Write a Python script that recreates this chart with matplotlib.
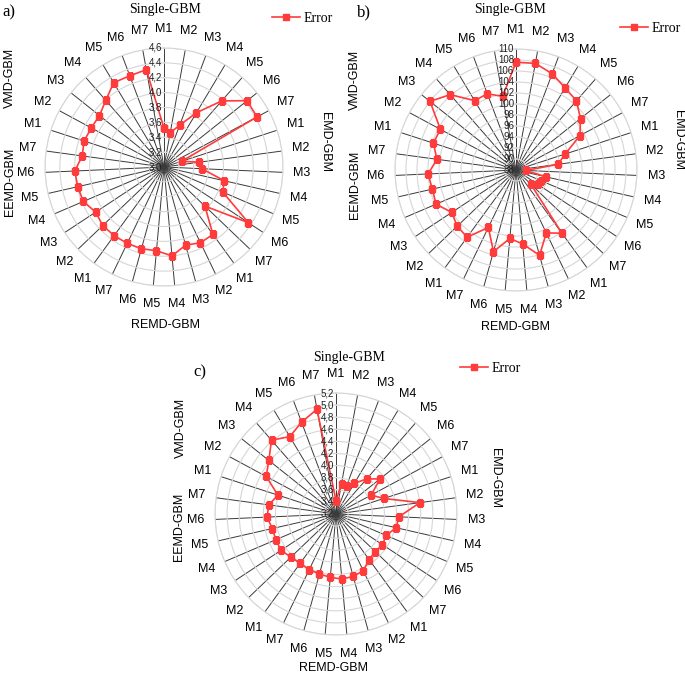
import numpy as np
import matplotlib
matplotlib.use('Agg')
import matplotlib.pyplot as plt
from matplotlib.transforms import offset_copy

W, H = 685, 675

models = ['M1', 'M2', 'M3', 'M4', 'M5', 'M6', 'M7']
groups = ['Single-GBM', 'EMD-GBM', 'REMD-GBM', 'EEMD-GBM', 'VMD-GBM']

# panel a)
a_single = [3.52, 3.47, 3.60, 3.85, 4.18, 4.43, 4.42]
a_emd = [3.25, 3.48, 3.51, 3.83, 3.86, 4.36, 3.76]
a_remd = [4.12, 4.13, 4.09, 4.20, 4.13, 4.14, 4.14]
a_eemd = [4.14, 4.14, 4.10, 4.18, 4.19, 4.20, 4.11]
a_vmd = [4.13, 4.11, 4.11, 4.19, 4.32, 4.31, 4.33]
a_ticks = [3.0, 3.2, 3.4, 3.6, 3.8, 4.0, 4.2, 4.4, 4.6]

# panel b)
b_single = [107.6, 107.7, 106.7, 105.4, 104.7, 103.0, 101.2]
b_emd = [97.4, 95.7, 89.8, 93.6, 93.0, 92.7, 91.7]
b_remd = [102.2, 100.7, 104.1, 101.5, 100.5, 103.4, 99.6]
b_eemd = [103.1, 102.8, 102.0, 103.8, 103.6, 104.0, 102.5]
b_vmd = [103.8, 103.6, 108.0, 106.2, 102.7, 102.8, 101.6]
b_ticks = [88, 90, 92, 94, 96, 98, 100, 102, 104, 106, 108, 110]

# panel c)
c_single = [3.42, 3.71, 3.70, 3.79, 3.97, 4.13, 3.86]
c_emd = [4.03, 4.60, 4.24, 4.22, 4.10, 4.12, 4.10]
c_remd = [4.13, 4.24, 4.27, 4.28, 4.25, 4.23, 4.22]
c_eemd = [4.21, 4.23, 4.29, 4.28, 4.28, 4.34, 4.32]
c_vmd = [4.21, 4.51, 4.62, 4.82, 4.69, 4.82, 4.96]
c_ticks = [3.2, 3.4, 3.6, 3.8, 4.0, 4.2, 4.4, 4.6, 4.8, 5.0, 5.2]

SANS = 'Liberation Sans'
SERIF = 'Liberation Serif'
RED = '#ff3b3b'

fig = plt.figure(figsize=(W / 100, H / 100), dpi=100)


def fpos(x, y):
    return x / W, 1 - y / H


def radar(cx, cy, r, series, ticks, fmt, panel, offs):
    ax = fig.add_axes([(cx - r) / W, 1 - (cy + r) / H, 2 * r / W, 2 * r / H],
                      projection='polar')
    values = np.concatenate(series)
    n = len(values)
    theta = np.arange(n) * 2 * np.pi / n
    ax.set_theta_zero_location('N')
    ax.set_theta_direction(-1)
    ax.set_ylim(ticks[0], ticks[-1])
    ax.set_yticks(ticks)
    ax.set_yticklabels([])
    ax.set_xticks(theta)
    ax.set_xticklabels([])
    ax.xaxis.grid(True, color='#3a3a3a', lw=0.7)
    ax.yaxis.grid(True, color='#d6d6d6', lw=0.8)
    ax.spines['polar'].set_color('#d6d6d6')
    ax.spines['polar'].set_linewidth(0.8)
    ax.tick_params(length=0)

    line, = ax.plot(np.append(theta, theta[0]), np.append(values, values[0]),
                    color=RED, lw=1.2, marker='s', ms=4.5, mec=RED, mfc=RED,
                    zorder=5)

    tr = offset_copy(ax.transData, fig=fig, x=-2, y=0, units='dots')
    for t in ticks:
        ax.text(0, t, fmt(t), transform=tr, ha='right', va='center',
                fontsize=7, family=SANS, color='#222222', zorder=6)

    span = ticks[-1] - ticks[0]
    for th, lab in zip(theta, models * len(groups)):
        ax.text(th, ticks[-1] + 0.16 * span, lab, ha='center', va='center',
                fontsize=9, family=SANS, clip_on=False)

    # group titles
    fig.text(*fpos(cx + offs['single'][0], cy + offs['single'][1]), 'Single-GBM',
             ha='center', va='center', fontsize=10, family=SERIF)
    fig.text(*fpos(cx + offs['emd'][0], cy + offs['emd'][1]), 'EMD-GBM',
             ha='center', va='center', fontsize=9, family=SANS, rotation=-90)
    fig.text(*fpos(cx + offs['remd'][0], cy + offs['remd'][1]), 'REMD-GBM',
             ha='center', va='center', fontsize=9, family=SANS)
    fig.text(*fpos(cx + offs['eemd'][0], cy + offs['eemd'][1]), 'EEMD-GBM',
             ha='center', va='center', fontsize=9, family=SANS, rotation=90)
    fig.text(*fpos(cx + offs['vmd'][0], cy + offs['vmd'][1]), 'VMD-GBM',
             ha='center', va='center', fontsize=9, family=SANS, rotation=90)
    fig.text(*fpos(cx + offs['panel'][0], cy + offs['panel'][1]), panel,
             ha='left', va='center', fontsize=12, family=SERIF)

    lx, ly = fpos(cx + offs['legend'][0], cy + offs['legend'][1])
    ax.legend([line], ['Error'], loc='center left', bbox_to_anchor=(lx, ly),
              bbox_transform=fig.transFigure, frameon=False, borderpad=0,
              borderaxespad=0, handlelength=2.0, handletextpad=0.25,
              prop={'family': SERIF, 'size': 10})
    return ax


dec = lambda v: f'{v:.1f}'.replace('.', ',')
intf = lambda v: f'{v:d}'

radar(164, 167, 119, [a_single, a_emd, a_remd, a_eemd, a_vmd], a_ticks, dec, 'a)',
      {'single': (1, -157), 'emd': (161, -25), 'remd': (1, 158),
       'eemd': (-154, 15), 'vmd': (-154, -89), 'panel': (-162, -155),
       'legend': (108, -149)})
radar(516, 170, 121, [b_single, b_emd, b_remd, b_eemd, b_vmd], b_ticks, intf, 'b)',
      {'single': (-6, -160), 'emd': (162, -30), 'remd': (-1, 157),
       'eemd': (-161, 15), 'vmd': (-161, -90), 'panel': (-159, -158),
       'legend': (104, -142)})
radar(336, 514, 121, [c_single, c_emd, c_remd, c_eemd, c_vmd], c_ticks, dec, 'c)',
      {'single': (13, -156), 'emd': (159, -36), 'remd': (-3, 154),
       'eemd': (-157, 13), 'vmd': (-155, -86), 'panel': (-143, -142),
       'legend': (124, -146)})

fig.savefig('out.png', dpi=100)
